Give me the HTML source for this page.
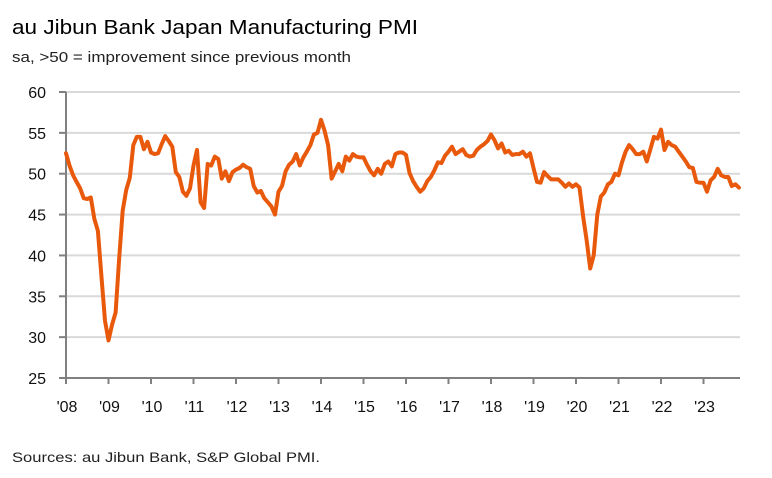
<!DOCTYPE html>
<html><head><meta charset="utf-8"><style>
html,body{margin:0;padding:0;background:#fff;width:772px;height:478px;overflow:hidden}
text{font-family:"Liberation Sans",sans-serif}
</style></head><body>
<svg id="chart" width="772" height="478" viewBox="0 0 772 478" xmlns="http://www.w3.org/2000/svg">
<text x="12" y="34" font-size="20" fill="#000" textLength="406" lengthAdjust="spacingAndGlyphs">au Jibun Bank Japan Manufacturing PMI</text>
<text x="12" y="62" font-size="15" fill="#222" textLength="339" lengthAdjust="spacingAndGlyphs">sa, &gt;50 = improvement since previous month</text>
<g id="grid"></g>
<g id="axes"></g>
<g id="series"></g>
<text x="12" y="462" font-size="14" fill="#222" textLength="308" lengthAdjust="spacingAndGlyphs">Sources: au Jibun Bank, S&amp;P Global PMI.</text>
</svg>
<script>
const yTicks = [25,30,35,40,45,50,55,60];
const yearLabels = ["'08","'09","'10","'11","'12","'13","'14","'15","'16","'17","'18","'19","'20","'21","'22","'23"];
const startYear = 2008;
const pmiValues = [
52.5,51,49.8,49,48.2,47,46.9,47.1,44.5,43,37.5,32,
29.6,31.5,33,39.5,45.5,48,49.5,53.5,54.5,54.5,53,53.9,
52.6,52.4,52.5,53.6,54.6,54,53.3,50.2,49.6,47.8,47.3,48.2,
51,52.9,46.5,45.8,51.2,51,52.1,51.8,49.4,50.3,49.1,50.2,
50.5,50.7,51.1,50.8,50.6,48.5,47.7,47.9,47,46.5,46,45,
47.8,48.5,50.3,51.1,51.5,52.4,51,52,52.7,53.5,54.8,55,
56.6,55.3,53.5,49.4,50.3,51.2,50.3,52.1,51.6,52.4,52.1,52,
52,51.1,50.3,49.8,50.6,50,51.2,51.5,50.9,52.4,52.6,52.6,
52.3,50.1,49.1,48.4,47.8,48.2,49.1,49.6,50.4,51.4,51.3,52.2,
52.7,53.3,52.4,52.7,53,52.3,52.1,52.2,52.9,53.3,53.6,54,
54.8,54.1,53.1,53.7,52.6,52.8,52.3,52.4,52.4,52.7,52.1,52.5,
50.7,49,48.9,50.2,49.7,49.3,49.3,49.3,48.9,48.4,48.8,48.4,
48.7,48.3,44.8,41.9,38.4,40,45,47.2,47.7,48.7,49,50,
49.8,51.4,52.7,53.5,53,52.4,52.4,52.7,51.5,53,54.5,54.3,
55.4,52.9,53.9,53.5,53.3,52.7,52.1,51.5,50.8,50.7,49,48.9,
48.9,47.8,49.2,49.6,50.6,49.8,49.6,49.6,48.5,48.7,48.3
];
const NS='http://www.w3.org/2000/svg';
const L=66,R=740,T=92,B=378;
const xOfYear = y => L + (y - startYear) * 42.5;
const xOfMonth = m => xOfYear(startYear + m/12);
const yOf = v => B - (v - 25) * (B - T) / 35;
function mk(tag, parent){const e=document.createElementNS(NS,tag);parent.appendChild(e);return e;}
const grid=document.getElementById('grid'), axes=document.getElementById('axes'), series=document.getElementById('series');
yTicks.forEach(v=>{
  if(v>25){
    const g=mk('line',grid);
    
    
    g.setAttribute('x1',L);g.setAttribute('x2',R);g.setAttribute('y1',yOf(v));g.setAttribute('y2',yOf(v));
    g.setAttribute('stroke','#d9d9d9');g.setAttribute('stroke-width','2');
  }
  const tk=mk('line',axes);
  
  
  tk.setAttribute('x1',59);tk.setAttribute('x2',L);tk.setAttribute('y1',yOf(v));tk.setAttribute('y2',yOf(v));
  tk.setAttribute('stroke','#808080');tk.setAttribute('stroke-width','2');
  const t=mk('text',axes);
  
  
  t.setAttribute('x',46);t.setAttribute('y',yOf(v)+6);t.setAttribute('text-anchor','end');
  t.setAttribute('font-size','16');t.setAttribute('fill','#111');
  t.textContent=v;
});
const ya=mk('line',axes);


ya.setAttribute('x1',L);ya.setAttribute('x2',L);ya.setAttribute('y1',T);ya.setAttribute('y2',B+6);
ya.setAttribute('stroke','#808080');ya.setAttribute('stroke-width','2');
const xa=mk('line',axes);


xa.setAttribute('x1',L-7);xa.setAttribute('x2',R);xa.setAttribute('y1',B);xa.setAttribute('y2',B);
xa.setAttribute('stroke','#808080');xa.setAttribute('stroke-width','2');
yearLabels.forEach((lab,i)=>{
  const x=xOfYear(startYear+i);
  const tk=mk('line',axes);
  
  
  tk.setAttribute('x1',x);tk.setAttribute('x2',x);tk.setAttribute('y1',B);tk.setAttribute('y2',B+6);
  tk.setAttribute('stroke','#808080');tk.setAttribute('stroke-width','2');
  const t=mk('text',axes);
  
  
  t.setAttribute('x',x+1);t.setAttribute('y',412);t.setAttribute('text-anchor','middle');
  t.setAttribute('font-size','16');t.setAttribute('fill','#111');
  t.textContent=lab;
});
const p=mk('path',series);


p.setAttribute('d',pmiValues.map((v,i)=>(i?'L':'M')+xOfMonth(i).toFixed(1)+','+yOf(v).toFixed(1)).join(''));
p.setAttribute('fill','none');p.setAttribute('stroke','#e8590c');p.setAttribute('stroke-width','4');
p.setAttribute('stroke-linejoin','round');p.setAttribute('stroke-linecap','round');
</script>
</body></html>
